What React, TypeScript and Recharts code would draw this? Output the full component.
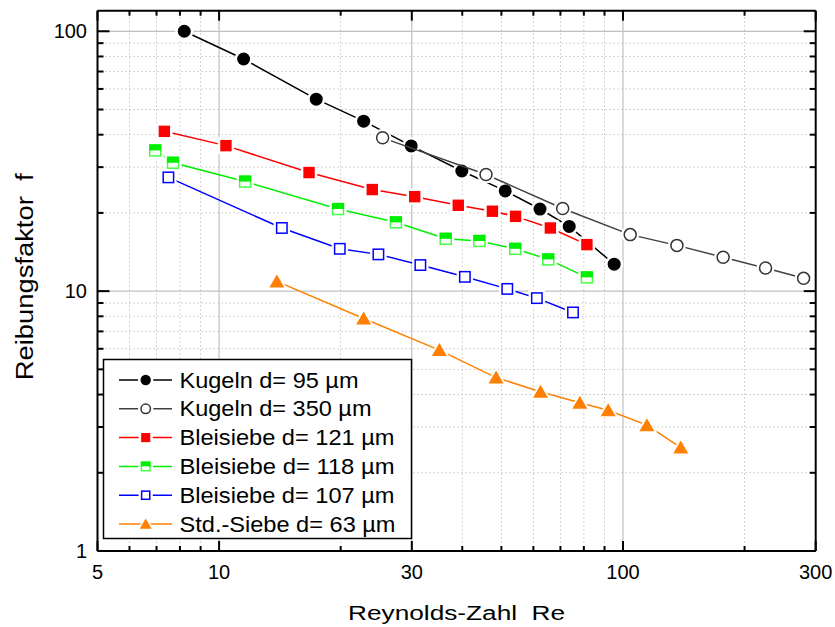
import { ScatterChart, Scatter, XAxis, YAxis, ReferenceLine } from "recharts";

// Reynolds number (x) and friction factor (y) per sample
const kugeln95X = [8.2, 11.5, 17.4, 22.8, 29.9, 39.9, 51.1, 62.3, 73.6, 95.1];
const kugeln95Y = [100, 78.2, 54.8, 45.1, 36.2, 29.0, 24.3, 20.7, 17.75, 12.7];
const kugeln350X = [25.4, 45.8, 70.9, 104.2, 136, 177, 225.4, 280];
const kugeln350Y = [38.9, 28.1, 20.8, 16.5, 15.0, 13.5, 12.27, 11.2];
const blei121X = [7.32, 10.4, 16.7, 23.95, 30.5, 39.1, 47.5, 54.2, 66.1, 81.4];
const blei121Y = [41.2, 36.3, 28.6, 24.6, 23.1, 21.4, 20.3, 19.4, 17.5, 15.1];
const blei118X = [6.95, 7.69, 11.6, 19.7, 27.4, 36.4, 44.1, 54.1, 65.3, 81.4];
const blei118Y = [34.8, 31.2, 26.4, 20.7, 18.4, 15.9, 15.6, 14.55, 13.25, 11.3];
const blei107X = [7.49, 14.3, 19.9, 24.8, 31.5, 40.6, 51.7, 61.2, 75.2];
const blei107Y = [27.4, 17.5, 14.55, 13.85, 12.6, 11.35, 10.2, 9.4, 8.28];
const std63X = [13.9, 22.8, 35.1, 48.5, 62.5, 78.2, 91.9, 114.6, 139];
const std63Y = [10.9, 7.85, 5.93, 4.65, 4.1, 3.72, 3.48, 3.05, 2.5];

const names = [
  "Kugeln d= 95 µm",
  "Kugeln d= 350 µm",
  "Bleisiebe d= 121 µm",
  "Bleisiebe d= 118 µm",
  "Bleisiebe d= 107 µm",
  "Std.-Siebe d= 63 µm",
];

const xTicks = [5, 6, 7, 8, 9, 10, 20, 30, 40, 50, 60, 70, 80, 90, 100, 200, 300];
const xLabels = [5, 10, 30, 100, 300];
const xMajorGrid = [10, 30, 100];
const xMinorGrid = [6, 7, 8, 9, 20, 40, 50, 60, 70, 80, 90, 200];
const yTicks = [1, 2, 3, 4, 5, 6, 7, 8, 9, 10, 20, 30, 40, 50, 60, 70, 80, 90, 100];
const yLabels = [1, 10, 100];
const yMajorGrid = [10, 100];
const yMinorGrid = [2, 3, 4, 5, 6, 7, 8, 9, 20, 30, 40, 50, 60, 70, 80, 90];

const toPoints = (xs: number[], ys: number[]) => xs.map((x, i) => ({ x, y: ys[i] }));

const series = [
  { name: names[0], data: toPoints(kugeln95X, kugeln95Y), color: "#000000", kind: "dot" },
  { name: names[1], data: toPoints(kugeln350X, kugeln350Y), color: "#404040", kind: "ring" },
  { name: names[2], data: toPoints(blei121X, blei121Y), color: "#ff0000", kind: "redsq" },
  { name: names[3], data: toPoints(blei118X, blei118Y), color: "#00ee00", kind: "greensq" },
  { name: names[4], data: toPoints(blei107X, blei107Y), color: "#0000ff", kind: "bluesq" },
  { name: names[5], data: toPoints(std63X, std63Y), color: "#ff8000", kind: "tri" },
];

const FONT = "'Liberation Sans', Arial, Helvetica, sans-serif";

function Marker({ kind, cx, cy, s = 1 }: { kind: string; cx: number; cy: number; s?: number }) {
  if (cx == null || cy == null) return null;
  if (kind === "dot" || kind === "ring") {
    const r = 6.5 * s;
    return (
      <g>
        <circle cx={cx} cy={cy} r={r + 2.5} fill="#fff" />
        {kind === "dot" ? (
          <circle cx={cx} cy={cy} r={r} fill="#000" />
        ) : (
          <circle cx={cx} cy={cy} r={r - 0.5} fill="#fff" stroke="#333" strokeWidth={1.5} />
        )}
      </g>
    );
  }
  if (kind === "tri") {
    const w = 7.5 * s;
    const up = 7 * s;
    const dn = 6 * s;
    return (
      <g>
        <polygon
          points={`${cx},${cy - up - 3} ${cx - w - 3},${cy + dn + 1.5} ${cx + w + 3},${cy + dn + 1.5}`}
          fill="#fff"
        />
        <polygon points={`${cx},${cy - up} ${cx - w},${cy + dn} ${cx + w},${cy + dn}`} fill="#ff8000" />
      </g>
    );
  }
  const h = (kind === "greensq" ? 6 : 5.7) * s;
  return (
    <g>
      <rect x={cx - h - 2.5} y={cy - h - 2.5} width={2 * h + 5} height={2 * h + 5} fill="#fff" />
      {kind === "redsq" && <rect x={cx - h} y={cy - h} width={2 * h} height={2 * h} fill="#ff0000" />}
      {kind === "bluesq" && (
        <rect x={cx - h + 0.5} y={cy - h + 0.5} width={2 * h - 1} height={2 * h - 1} fill="#fff" stroke="#0000ff" strokeWidth={1.5} />
      )}
      {kind === "greensq" && (
        <g>
          <rect x={cx - h + 0.5} y={cy - h + 0.5} width={2 * h - 1} height={2 * h - 1} fill="#fff" stroke="#44ff44" strokeWidth={1.5} />
          <rect x={cx - h} y={cy - h} width={2 * h} height={h} fill="#00ee00" />
        </g>
      )}
    </g>
  );
}

const BottomTick = (props: any) => {
  const { x, y, payload } = props;
  const major = xLabels.includes(payload.value);
  return (
    <g>
      <line x1={x} x2={x} y1={y} y2={y - (major ? 10 : 5)} stroke="#000" strokeWidth={2} />
      {major && (
        <text x={x} y={y + 28} textAnchor="middle" fontSize={20} fontFamily={FONT} fill="#000">
          {payload.value}
        </text>
      )}
    </g>
  );
};

const TopTick = (props: any) => {
  const { x, y, payload } = props;
  const major = xLabels.includes(payload.value);
  return <line x1={x} x2={x} y1={y} y2={y + (major ? 10 : 5)} stroke="#000" strokeWidth={2} />;
};

const LeftTick = (props: any) => {
  const { x, y, payload } = props;
  const major = yLabels.includes(payload.value);
  return (
    <g>
      <line x1={x} x2={x + (major ? 12 : 6)} y1={y} y2={y} stroke="#000" strokeWidth={2} />
      {major && (
        <text x={x - 10.5} y={y + 7} textAnchor="end" fontSize={20} fontFamily={FONT} fill="#000">
          {payload.value}
        </text>
      )}
    </g>
  );
};

const RightTick = (props: any) => {
  const { x, y, payload } = props;
  const major = yLabels.includes(payload.value);
  return <line x1={x} x2={x - (major ? 12 : 6)} y1={y} y2={y} stroke="#000" strokeWidth={2} />;
};

const XTitle = (props: any) => {
  const vb = props.viewBox;
  return (
    <text
      x={vb.x + vb.width / 2}
      y={vb.y + 69}
      textAnchor="middle"
      fontSize={20}
      fontFamily={FONT}
      textLength={217}
      lengthAdjust="spacingAndGlyphs"
      fill="#000"
      style={{ whiteSpace: "pre" }}
    >
      {"Reynolds-Zahl  Re"}
    </text>
  );
};

const YTitle = (props: any) => {
  const vb = props.viewBox;
  const tx = vb.x + vb.width - 64;
  const ty = vb.y + vb.height / 2 - 4;
  return (
    <text
      x={tx}
      y={ty}
      transform={`rotate(-90, ${tx}, ${ty})`}
      textAnchor="middle"
      fontSize={23}
      fontFamily={FONT}
      textLength={207}
      lengthAdjust="spacingAndGlyphs"
      fill="#000"
      style={{ whiteSpace: "pre" }}
    >
      {"Reibungsfaktor  f"}
    </text>
  );
};

const legendTextWidths = [179, 192, 215, 215, 215, 216];

const LegendBox = () => (
  <svg width={312} height={182} style={{ position: "absolute", left: 102, top: 358 }}>
    <rect x={1.5} y={1.5} width={308} height={179} fill="#fff" stroke="#000" strokeWidth={1.5} />
    {series.map((s, i) => {
      const cy = 22 + i * 28.8;
      return (
        <g key={s.name}>
          <line x1={17} x2={70} y1={cy} y2={cy} stroke={s.color} strokeWidth={1.5} />
          <Marker kind={s.kind} cx={43.7} cy={cy} s={0.8} />
          <text
            x={77.5}
            y={cy + 7.5}
            fontSize={22}
            fontFamily={FONT}
            textLength={legendTextWidths[i]}
            lengthAdjust="spacingAndGlyphs"
            fill="#000"
          >
            {s.name}
          </text>
        </g>
      );
    })}
  </svg>
);

export default function App() {
  return (
    <div style={{ position: "absolute", left: 0, top: 0, width: 835, height: 627, background: "#fff" }}>
      <ScatterChart
        width={835}
        height={627}
        margin={{ top: 9.7, right: 18.3, bottom: 75, left: 96.5 }}
      >
        {xMinorGrid.map((v) => (
          <ReferenceLine key={`xm${v}`} xAxisId="b" yAxisId="l" x={v} stroke="#c4c4c4" strokeWidth={1} strokeDasharray="1.5 2.5" />
        ))}
        {yMinorGrid.map((v) => (
          <ReferenceLine key={`ym${v}`} xAxisId="b" yAxisId="l" y={v} stroke="#c4c4c4" strokeWidth={1} strokeDasharray="1.5 2.5" />
        ))}
        {xMajorGrid.map((v) => (
          <ReferenceLine key={`xM${v}`} xAxisId="b" yAxisId="l" x={v} stroke="#c0c0c0" strokeWidth={1.2} />
        ))}
        {yMajorGrid.map((v) => (
          <ReferenceLine key={`yM${v}`} xAxisId="b" yAxisId="l" y={v} stroke="#c0c0c0" strokeWidth={1.2} />
        ))}
        <XAxis
          xAxisId="b"
          dataKey="x"
          type="number"
          scale="log"
          domain={[5, 300]}
          allowDataOverflow
          ticks={xTicks}
          interval={0}
          height={1}
          tickSize={0}
          tickMargin={0}
          tickLine={false}
          tick={<BottomTick />}
          axisLine={{ stroke: "#000", strokeWidth: 2 }}
          label={{ content: XTitle }}
        />
        <XAxis
          xAxisId="t"
          orientation="top"
          dataKey="x"
          type="number"
          scale="log"
          domain={[5, 300]}
          allowDataOverflow
          ticks={xTicks}
          interval={0}
          height={1}
          tickSize={0}
          tickMargin={0}
          tickLine={false}
          tick={<TopTick />}
          axisLine={{ stroke: "#000", strokeWidth: 2 }}
        />
        <YAxis
          yAxisId="l"
          dataKey="y"
          type="number"
          scale="log"
          domain={[1, 120]}
          allowDataOverflow
          ticks={yTicks}
          interval={0}
          width={1}
          tickSize={0}
          tickMargin={0}
          tickLine={false}
          tick={<LeftTick />}
          axisLine={{ stroke: "#000", strokeWidth: 2 }}
          label={{ content: YTitle }}
        />
        <YAxis
          yAxisId="r"
          orientation="right"
          dataKey="y"
          type="number"
          scale="log"
          domain={[1, 120]}
          allowDataOverflow
          ticks={yTicks}
          interval={0}
          width={1}
          tickSize={0}
          tickMargin={0}
          tickLine={false}
          tick={<RightTick />}
          axisLine={{ stroke: "#000", strokeWidth: 2 }}
        />
        {series.map((s) => (
          <Scatter
            key={s.name}
            name={s.name}
            data={s.data}
            xAxisId="b"
            yAxisId="l"
            fill={s.color}
            line={{ stroke: s.color, strokeWidth: 1.5 }}
            lineType="joint"
            isAnimationActive={false}
            shape={(p: any) => <Marker kind={s.kind} cx={p.cx} cy={p.cy} />}
          />
        ))}
      </ScatterChart>
      <LegendBox />
    </div>
  );
}
